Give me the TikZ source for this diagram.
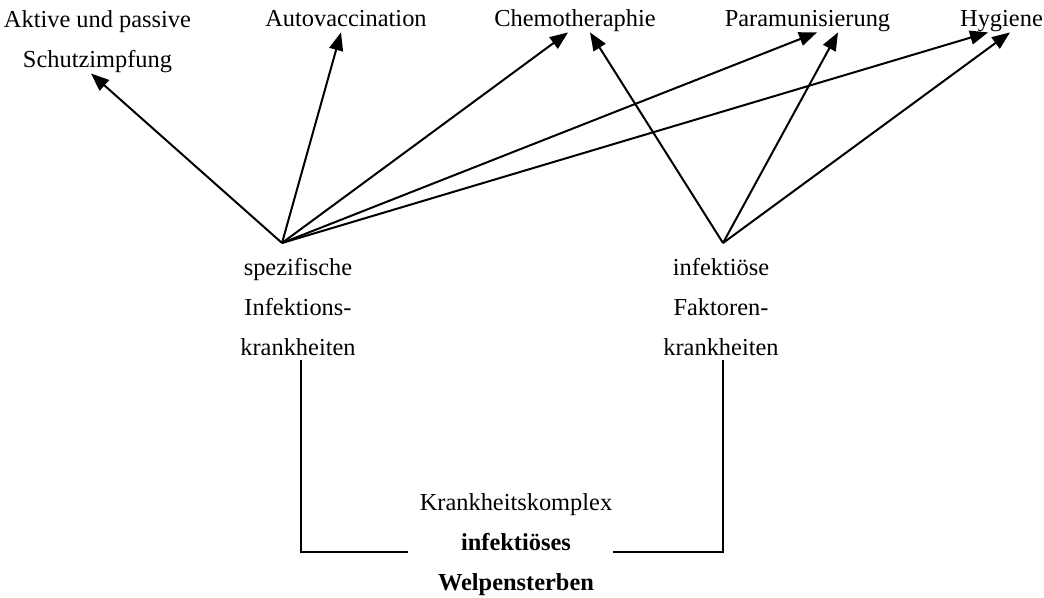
\documentclass[tikz,border=0pt]{standalone}
\usepackage{fontspec}
\setmainfont{Liberation Serif}
\usetikzlibrary{arrows.meta,positioning,calc}

\begin{document}
\begin{tikzpicture}[
    x=0.5pt, y=-0.5pt,
    every node/.style={font=\fontsize{12.2}{20}\selectfont, inner sep=0pt},
    ziel/.style={anchor=base, text depth=2.5pt},
    block/.style={anchor=north, align=center},
    pfeil/.style={line width=1pt, -{Triangle[length=9pt,width=7pt]}},
    strich/.style={line width=1pt},
]
\useasboundingbox (0,0) rectangle (1044,598);

\node[block] (schutz) at (97.5,10.5) {Aktive und passive\\Schutzimpfung};
\node[ziel] (auto) at (346,27) {Autovaccination};
\node[ziel] (chemo) at (575,27) {Chemotheraphie};
\node[ziel] (para) at (807.5,27) {Paramunisierung};
\node[ziel] (hyg) at (1001.5,27) {Hygiene};

\node[block] (spez) at (298,257.5) {spezifische\\Infektions-\\krankheiten};
\node[block] (fakt) at (721,257.5) {infektiöse\\Faktoren-\\krankheiten};
\node[block] (komplex) at (516,493.5) {Krankheitskomplex\\\textbf{infektiöses}\\\textbf{Welpensterben}};

\coordinate (lhub) at (282,243);
\coordinate (rhub) at (723,243);

\draw[pfeil] (lhub) -- ($(schutz.south)+(-6.5,0)$);
\draw[pfeil] (lhub) -- ($(auto.south)+(-5,0)$);
\draw[pfeil] (lhub) -- ($(chemo.south)+(-7,0)$);
\draw[pfeil] (lhub) -- ($(para.south)+(9.5,0)$);
\draw[pfeil] (lhub) -- ($(hyg.south)+(-13.5,0)$);
\draw[pfeil] (rhub) -- ($(chemo.south)+(15,0)$);
\draw[pfeil] (rhub) -- ($(para.south)+(30.5,0)$);
\draw[pfeil] (rhub) -- ($(hyg.south)+(8.5,0)$);

\coordinate (lfuss) at (301,552);
\coordinate (lende) at (408,552);
\coordinate (rfuss) at (722.5,552);
\coordinate (rende) at (613,552);

\draw[strich] (lfuss |- spez.south) ++(0,4) -- (lfuss) -- (lende);
\draw[strich] (rfuss |- fakt.south) ++(0,4) -- (rfuss) -- (rende);
\end{tikzpicture}
\end{document}
